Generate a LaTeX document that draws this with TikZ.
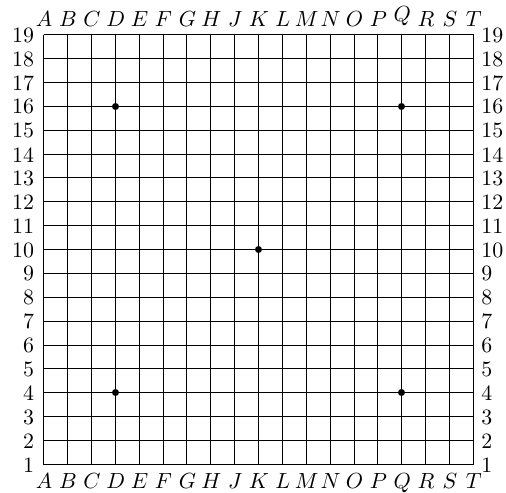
\documentclass[tikz,border=0pt]{standalone}
\begin{document}
\begin{tikzpicture}[x=0.5pt,y=-0.5pt,
  gridline/.style={line width=0.8pt},
  toplabel/.style={anchor=south,inner sep=0pt,font=\fontsize{10.95}{13}\selectfont},
  botlabel/.style={anchor=north,inner sep=0pt,font=\fontsize{10.95}{13}\selectfont},
  leftlabel/.style={anchor=east,inner sep=0pt,font=\fontsize{10.95}{13}\selectfont},
  rightlabel/.style={anchor=west,inner sep=0pt,font=\fontsize{10.95}{13}\selectfont},
  starpt/.style={circle,fill=black,inner sep=0pt,minimum size=3.5pt}]
\useasboundingbox (0,0) rectangle (506,492);
\foreach \i in {0,...,18} {
  \pgfmathsetmacro{\gxx}{round(44.2+\i*23.87)-0.5}
  \pgfmathsetmacro{\gyy}{round(35.2+\i*23.87)-0.5}
  \draw[gridline] (\gxx,34.7) -- (\gxx,464.5);
  \draw[gridline] (43.7,\gyy) -- (473.5,\gyy);
}
\foreach \lt [count=\i from 0] in {A,B,C,D,E,F,G,H,J,K,L,M,N,O,P,Q,R,S,T} {
  \node[toplabel] (top\lt) at ({44.2+\i*23.87},26.5) {$\lt$};
  \node[botlabel] (bot\lt) at ({44.2+\i*23.87},473.5) {$\lt$};
}
\foreach \n in {1,...,19} {
  \node[leftlabel] (left\n) at (34.5,{464.9-(\n-1)*23.87}) {\n};
  \node[rightlabel] (right\n) at (481,{464.9-(\n-1)*23.87}) {\n};
}
\foreach \cx/\ry/\nm in {3/4/D4,3/16/D16,9/10/K10,15/4/Q4,15/16/Q16} {
  \pgfmathsetmacro{\sxx}{round(44.2+\cx*23.87)-0.5}
  \pgfmathsetmacro{\syy}{round(35.2+(19-\ry)*23.87)-0.5}
  \node[starpt] (star\nm) at (\sxx,\syy) {};
}
\end{tikzpicture}
\end{document}
